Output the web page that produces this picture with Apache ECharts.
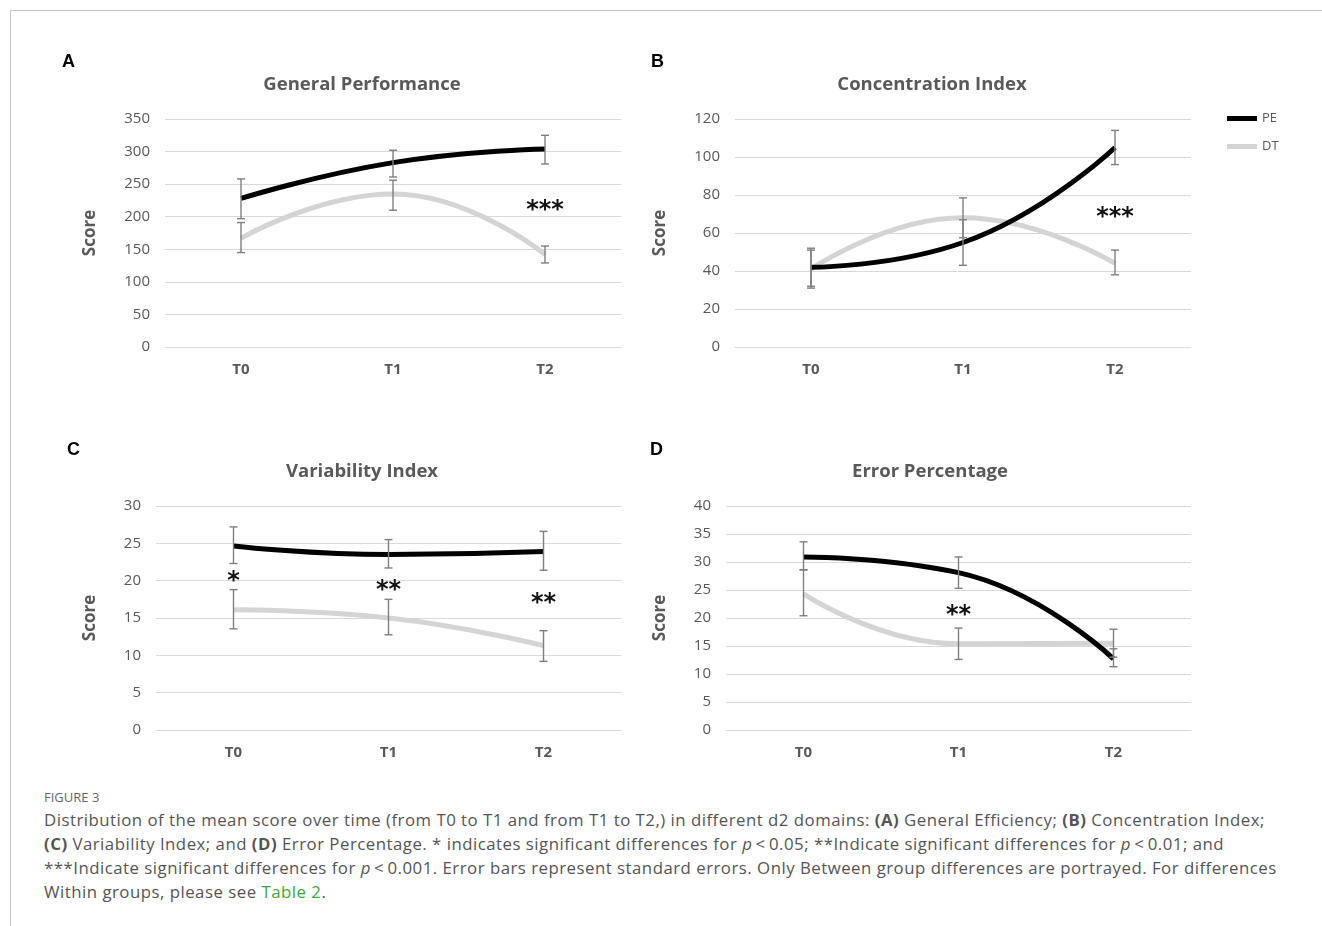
<!DOCTYPE html>
<html>
<head>
<meta charset="utf-8">
<script src="https://cdn.jsdelivr.net/npm/echarts@6/dist/echarts.min.js"></script>
<style>
  html, body { margin: 0; padding: 0; background: #fff; }
  #frame { position: absolute; left: 10px; top: 10px; width: 1312px; height: 916px;
           border-top: 1px solid #c8c8c8; border-left: 1px solid #c8c8c8; box-sizing: border-box; }
  #chart { position: absolute; left: 0; top: 0; width: 1322px; height: 780px; }
  #cap { position: absolute; left: 44px; top: 786px; font-family: "Open Sans", Lato, sans-serif; color: #555; }
  #cap .fig { font-size: 13px; color: #666; line-height: 22px; }
  #cap .txt { font-size: 16.8px; line-height: 24px; white-space: nowrap; }
  #cap .ln { display: inline-block; }
  #cap a { color: #3aaa35; text-decoration: none; }
</style>
</head>
<body>
<div id="frame"></div>
<div id="chart"></div>
<div id="cap">
  <div class="fig">FIGURE 3</div>
  <div class="txt"><span class="ln" id="l1">Distribution of the mean score over time (from T0 to T1 and from T1 to T2,) in different d2 domains: <b>(A)</b> General Efficiency; <b>(B)</b> Concentration Index;</span><br><span class="ln"><b>(C)</b> Variability Index; and <b>(D)</b> Error Percentage. * indicates significant differences for <i>p</i>&#8201;&lt;&#8201;0.05; **Indicate significant differences for <i>p</i>&#8201;&lt;&#8201;0.01; and</span><br><span class="ln">***Indicate significant differences for <i>p</i>&#8201;&lt;&#8201;0.001. Error bars represent standard errors. Only Between group differences are portrayed. For differences</span><br><span class="ln">Within groups, please see <a>Table 2</a>.</span></div>
</div>
<script>
// ---------- data ----------
const categories = ['T0', 'T1', 'T2'];
const seriesNames = ['PE', 'DT'];
const panelTitles = ['General Performance', 'Concentration Index', 'Variability Index', 'Error Percentage'];
const panelLetters = ['A', 'B', 'C', 'D'];
const yMax = [350, 120, 30, 40];
const yInterval = [50, 20, 5, 5];

// A: General Performance
const gpPE = [228, 283, 304];
const gpPELow = [197, 261, 281];
const gpPEHigh = [258, 302, 325];
const gpDT = [167, 235, 142];
const gpDTLow = [145, 210, 129];
const gpDTHigh = [191, 256, 155];
const gpStars = [[2, 219, '***']];

// B: Concentration Index
const ciPE = [42, 55, 105];
const ciPELow = [32, 43, 96];
const ciPEHigh = [52, 67, 114];
const ciDT = [41, 68, 44];
const ciDTLow = [31, 57.5, 38];
const ciDTHigh = [51, 78.5, 51];
const ciStars = [[2, 71, '***']];

// C: Variability Index
const viPE = [24.65, 23.5, 23.9];
const viPELow = [22.3, 21.7, 21.4];
const viPEHigh = [27.2, 25.5, 26.6];
const viDT = [16.1, 15.0, 11.3];
const viDTLow = [13.55, 12.75, 9.2];
const viDTHigh = [18.8, 17.5, 13.3];
const viStars = [[0, 20.7, '*'], [1, 19.5, '**'], [2, 17.7, '**']];

// D: Error Percentage
const epPE = [30.9, 28.1, 12.7];
const epPELow = [28.6, 25.3, 11.3];
const epPEHigh = [33.6, 30.9, 14.5];
const epDT = [24.3, 15.4, 15.5];
const epDTLow = [20.4, 12.6, 13.0];
const epDTHigh = [28.6, 18.2, 18.0];
const epStars = [[1, 21.4, '**']];

// ---------- layout ----------
const panels = [
  { pe: gpPE, peLo: gpPELow, peHi: gpPEHigh, dt: gpDT, dtLo: gpDTLow, dtHi: gpDTHigh, stars: gpStars,
    grid: { left: 165, top: 119, width: 456, height: 228 }, nameGap: 66, title: [357, 70], letter: [62, 53] },
  { pe: ciPE, peLo: ciPELow, peHi: ciPEHigh, dt: ciDT, dtLo: ciDTLow, dtHi: ciDTHigh, stars: ciStars,
    grid: { left: 735, top: 119, width: 456, height: 228 }, nameGap: 66, title: [927, 70], letter: [651, 53] },
  { pe: viPE, peLo: viPELow, peHi: viPEHigh, dt: viDT, dtLo: viDTLow, dtHi: viDTHigh, stars: viStars,
    grid: { left: 156, top: 506, width: 465, height: 224 }, nameGap: 57, title: [357, 457], letter: [67, 441] },
  { pe: epPE, peLo: epPELow, peHi: epPEHigh, dt: epDT, dtLo: epDTLow, dtHi: epDTHigh, stars: epStars,
    grid: { left: 726, top: 506, width: 465, height: 224 }, nameGap: 57, title: [925, 457], letter: [650, 441] }
];

const FONT = '"Open Sans", "Noto Sans", sans-serif';
const colors = { PE: '#000000', DT: '#d4d4d4' };

function errData(lo, hi) {
  return categories.map((c, i) => [i, lo[i], hi[i]]);
}

function renderErr(params, api) {
  const x = api.value(0);
  const lo = api.coord([x, api.value(1)]);
  const hi = api.coord([x, api.value(2)]);
  const cap = 4;
  const style = { stroke: '#7f7f7f', lineWidth: 1.4 };
  return {
    type: 'group',
    children: [
      { type: 'line', shape: { x1: lo[0], y1: lo[1], x2: hi[0], y2: hi[1] }, style },
      { type: 'line', shape: { x1: lo[0] - cap, y1: lo[1], x2: lo[0] + cap, y2: lo[1] }, style },
      { type: 'line', shape: { x1: hi[0] - cap, y1: hi[1], x2: hi[0] + cap, y2: hi[1] }, style }
    ]
  };
}

const grids = [], xAxes = [], yAxes = [], series = [], titles = [], graphics = [];
panels.forEach((p, i) => {
  grids.push(Object.assign({ containLabel: false }, p.grid));
  xAxes.push({
    gridIndex: i, type: 'category', data: categories, boundaryGap: true,
    axisLine: { lineStyle: { color: '#d9d9d9', width: 1 } },
    axisTick: { show: false },
    axisLabel: { color: '#595959', fontWeight: 'bold', fontSize: 15, margin: 15, fontFamily: FONT }
  });
  yAxes.push({
    gridIndex: i, type: 'value', min: 0, max: yMax[i], interval: yInterval[i],
    axisLine: { show: false }, axisTick: { show: false },
    splitLine: { lineStyle: { color: '#d9d9d9', width: 1 } },
    axisLabel: { color: '#595959', fontSize: 15, margin: 15, fontFamily: FONT },
    name: 'Score', nameLocation: 'middle', nameGap: p.nameGap,
    nameTextStyle: { color: '#595959', fontWeight: 'bold', fontSize: 17, fontFamily: FONT }
  });
  titles.push({
    text: panelTitles[i], left: p.title[0], top: p.title[1], textAlign: 'center',
    textStyle: { color: '#595959', fontWeight: 'bold', fontSize: 18.5, fontFamily: FONT }
  });
  graphics.push({
    type: 'text', left: p.letter[0], top: p.letter[1],
    style: { text: panelLetters[i], font: 'bold 18px "Liberation Sans", Arial, sans-serif', fill: '#000' }
  });
  series.push({
    name: 'PE', type: 'line', xAxisIndex: i, yAxisIndex: i, data: p.pe, smooth: true,
    symbol: 'none', lineStyle: { color: colors.PE, width: 5 }, itemStyle: { color: colors.PE }, z: 3
  });
  series.push({
    name: 'DT', type: 'line', xAxisIndex: i, yAxisIndex: i, data: p.dt, smooth: true,
    symbol: 'none', lineStyle: { color: colors.DT, width: 5 }, itemStyle: { color: colors.DT }, z: 2
  });
  series.push({
    type: 'custom', xAxisIndex: i, yAxisIndex: i, data: errData(p.peLo, p.peHi),
    renderItem: renderErr, z: 5, silent: true
  });
  series.push({
    type: 'custom', xAxisIndex: i, yAxisIndex: i, data: errData(p.dtLo, p.dtHi),
    renderItem: renderErr, z: 5, silent: true
  });
  series.push({
    type: 'custom', xAxisIndex: i, yAxisIndex: i, data: p.stars,
    dimensions: ['x', 'y', { name: 'label', type: 'ordinal' }],
    renderItem: function (params, api) {
      const d = p.stars[params.dataIndex];
      const pt = api.coord([d[0], d[1]]);
      return {
        type: 'text', x: pt[0], y: pt[1] + 6,
        style: { text: d[2], font: 'bold 24px "DejaVu Sans", sans-serif', fill: '#111',
                 align: 'center', verticalAlign: 'middle' }
      };
    },
    z: 6, silent: true
  });
});

const chart = echarts.init(document.getElementById('chart'), null, { renderer: 'canvas' });
chart.setOption({
  animation: false,
  backgroundColor: 'transparent',
  title: titles,
  grid: grids,
  xAxis: xAxes,
  yAxis: yAxes,
  legend: {
    orient: 'vertical', left: 1222, top: 107, itemWidth: 30, itemHeight: 5, itemGap: 15,
    icon: 'rect', data: seriesNames,
    textStyle: { color: '#595959', fontSize: 13, fontFamily: FONT }
  },
  graphic: graphics,
  series: series
});

// fit caption line 1 to the reference width via letter spacing
(function () {
  const l1 = document.getElementById('l1');
  const target = 1221;
  const w = l1.getBoundingClientRect().width;
  const n = l1.textContent.length;
  const ls = (target - w) / n;
  document.querySelector('#cap .txt').style.letterSpacing = ls.toFixed(3) + 'px';
})();
</script>
</body>
</html>
